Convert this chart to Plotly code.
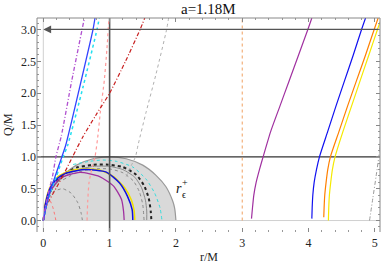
import plotly.graph_objects as go

# ---------------- data ----------------
title_text = "a=1.18M"
x_ticks = [0, 1, 2, 3, 4, 5]
y_ticks = [0.0, 0.5, 1.0, 1.5, 2.0, 2.5, 3.0]
y_tick_labels = ["0.0", "0.5", "1.0", "1.5", "2.0", "2.5", "3.0"]

# ergoregion half disk boundary r_eps^+
disk_r = [0, 0.02, 0.05, 0.15, 0.3, 0.5, 0.75, 1.0, 1.25, 1.5, 1.7, 1.85, 1.95, 1.98, 2.0]
disk_q = [0, 0.2, 0.31, 0.53, 0.71, 0.87, 0.97, 1.0, 0.97, 0.87, 0.71, 0.53, 0.31, 0.2, 0]

# arcs inside the disk
purple_arc_r = [0, 0.02, 0.04, 0.1, 0.25, 0.55, 0.85, 1.06, 1.18, 1.21, 1.22]
purple_arc_q = [0, 0.12, 0.22, 0.45, 0.66, 0.755, 0.69, 0.54, 0.33, 0.15, 0.0]
blue_arc_r = [0, 0.03, 0.1, 0.2, 0.34, 0.64, 0.95, 1.15, 1.27, 1.34, 1.35]
blue_arc_q = [0, 0.25, 0.5, 0.65, 0.745, 0.8, 0.76, 0.59, 0.38, 0.17, 0.0]
yellow_arc_r = [0, 0.03, 0.1, 0.22, 0.4, 0.62, 0.86, 1.06, 1.23, 1.33, 1.37, 1.38]
yellow_arc_q = [0, 0.27, 0.52, 0.69, 0.78, 0.81, 0.79, 0.69, 0.51, 0.32, 0.15, 0.0]
black_arc_r = [0, 0.05, 0.15, 0.3, 0.5, 0.75, 0.95, 1.2, 1.4, 1.52, 1.59, 1.62, 1.63]
black_arc_q = [0, 0.3, 0.55, 0.72, 0.83, 0.875, 0.88, 0.84, 0.72, 0.55, 0.35, 0.15, 0.0]
gray_arc_r = [0, 0.05, 0.15, 0.3, 0.5, 0.75, 1.0, 1.2, 1.38, 1.48, 1.54, 1.56, 1.56]
gray_arc_q = [0, 0.3, 0.52, 0.68, 0.79, 0.85, 0.85, 0.8, 0.68, 0.52, 0.32, 0.15, 0.0]
grayd_arc_r = [0.3, 0.5, 0.75, 1.0, 1.2, 1.36, 1.45, 1.5, 1.52]
grayd_arc_q = [0.64, 0.75, 0.81, 0.81, 0.75, 0.62, 0.45, 0.25, 0.0]
cyan_arc_r = [0.45, 0.7, 0.9, 1.1, 1.35, 1.55, 1.68, 1.76, 1.79]
cyan_arc_q = [0.88, 0.93, 0.95, 0.93, 0.84, 0.65, 0.43, 0.2, 0.0]
small_gray_r = [0, 0.05, 0.15, 0.29, 0.42, 0.52, 0.57, 0.59]
small_gray_q = [0, 0.3, 0.45, 0.5, 0.43, 0.28, 0.12, 0.0]
small_red_r = [0.0, 0.04, 0.09, 0.14, 0.17, 0.19]
small_red_q = [0.2, 0.3, 0.33, 0.22, 0.1, 0.0]

# rising curves on the left
purple_dd_r = [0, 0.03, 0.08, 0.14, 0.19, 0.27, 0.43, 0.585, 0.62]
purple_dd_q = [0, 0.2, 0.45, 0.7, 1.0, 1.32, 2.2, 3.0, 3.18]
blue_left_r = [0, 0.05, 0.1, 0.18, 0.28, 0.34, 0.55, 0.75, 0.78]
blue_left_q = [0, 0.25, 0.45, 0.7, 1.0, 1.19, 2.1, 3.0, 3.18]
cyan_left_r = [0, 0.05, 0.11, 0.2, 0.3, 0.37, 0.6, 0.81, 0.845]
cyan_left_q = [0, 0.25, 0.45, 0.7, 1.0, 1.19, 2.1, 3.0, 3.18]
lightred_r = [0.66, 0.67, 0.69, 0.74, 0.78, 0.82, 0.86, 0.92, 0.96, 0.99]
lightred_q = [0, 0.3, 0.6, 0.85, 1.0, 1.3, 1.7, 2.2, 2.7, 3.18]
red_dd_r = [0.02, 0.09, 0.2, 0.32, 0.45, 0.6, 0.79, 1.0, 1.24, 1.46, 1.53]
red_dd_q = [0.15, 0.32, 0.52, 0.75, 1.02, 1.32, 1.65, 2.0, 2.5, 3.0, 3.18]
gray_dot_r = [1.25, 1.32, 1.39, 1.43, 1.55, 1.7, 1.86, 1.89]
gray_dot_q = [0.69, 0.85, 1.0, 1.19, 1.7, 2.3, 3.0, 3.18]

# curves on the right
right_q = [0.03, 0.2, 0.4, 0.6, 0.8, 1.0, 1.4, 1.8, 2.2, 2.6, 3.0, 3.18]
purple_r = [3.14, 3.155, 3.175, 3.21, 3.26, 3.315, 3.43, 3.57, 3.71, 3.85, 3.99, 4.05]
blue_r = [4.05, 4.055, 4.065, 4.085, 4.12, 4.165, 4.29, 4.415, 4.545, 4.675, 4.80, 4.86]
orange_q = [0.05, 0.2, 0.4, 0.6, 0.8, 1.0, 1.4, 1.8, 2.2, 2.6, 3.0, 3.18]
orange_r = [4.23, 4.235, 4.245, 4.265, 4.29, 4.33, 4.46, 4.59, 4.725, 4.86, 4.99, 5.05]
yellow_q = [0.0, 0.2, 0.4, 0.6, 0.8, 1.0, 1.4, 1.8, 2.2, 2.6, 3.0, 3.12]
yellow_r = [4.30, 4.305, 4.315, 4.335, 4.36, 4.40, 4.52, 4.65, 4.78, 4.91, 5.04, 5.08]
graydd_r = [4.92, 4.97, 5.02, 5.06, 5.08]
graydd_q = [0.0, 0.35, 0.7, 1.0, 1.19]
orange_vline_r = [3.0, 3.0]
orange_vline_q = [0.0, 3.18]

x_range = [-0.095, 5.078]
y_range = [-0.18, 3.18]

# ---------------- figure ----------------
fig = go.Figure()

fig.add_trace(go.Scatter(x=disk_r, y=disk_q, mode="lines", fill="toself",
                         fillcolor="#d9d9d9", line=dict(color="#999999", width=1.2, shape="spline"),
                         hoverinfo="skip"))

DASHDOT = "4px,2px,1px,2px"

def add(xs, ys, color, dash="solid", width=1.2, shape="spline", smoothing=0.6):
    fig.add_trace(go.Scatter(x=xs, y=ys, mode="lines",
                             line=dict(color=color, dash=dash, width=width, shape=shape,
                                       smoothing=smoothing),
                             hoverinfo="skip"))

# inner arcs
add(small_gray_r, small_gray_q, "#8a8a8a", "dot", 1)
add(small_red_r, small_red_q, "#ff7070", "dot", 1)
add(cyan_arc_r, cyan_arc_q, "#33dddd", "dot", 1)
add(grayd_arc_r, grayd_arc_q, "#8a8a8a", "dot", 1)
add(gray_arc_r, gray_arc_q, "#8c8c8c", "solid", 1)
add(black_arc_r, black_arc_q, "#222222", "dot", 2)
add(yellow_arc_r, yellow_arc_q, "#f0e000", "solid", 1.5)
add(blue_arc_r, blue_arc_q, "#1010e0", "solid", 1.5)
add(purple_arc_r, purple_arc_q, "#a030a0", "solid", 1.3)

# reference lines
fig.add_trace(go.Scatter(x=[0, 0], y=[y_range[0], y_range[1]], mode="lines",
                         line=dict(color="#d0d0d0", width=1), hoverinfo="skip"))
fig.add_trace(go.Scatter(x=[0, x_range[1]], y=[0, 0], mode="lines",
                         line=dict(color="#d0d0d0", width=1), hoverinfo="skip"))
fig.add_trace(go.Scatter(x=[1, 1], y=[y_range[0], y_range[1]], mode="lines",
                         line=dict(color="#555555", width=1.6), hoverinfo="skip"))
fig.add_trace(go.Scatter(x=[x_range[0], x_range[1]], y=[1, 1], mode="lines",
                         line=dict(color="#333333", width=1.4), hoverinfo="skip"))
add(orange_vline_r, orange_vline_q, "#f0a060", "dot", 1, "linear")

# rising curves left
add(gray_dot_r, gray_dot_q, "#b0b0b0", "dot", 1)
add(lightred_r, lightred_q, "#ff9a9a", "dot", 1.2)
add(red_dd_r, red_dd_q, "#c82020", DASHDOT, 1.2)
add(cyan_left_r, cyan_left_q, "#22e0f0", "dot", 1.5)
add(blue_left_r, blue_left_q, "#3344ff", "solid", 1.3)
add(purple_dd_r, purple_dd_q, "#b050d0", DASHDOT, 1.3)

# right curves
add(purple_r, right_q, "#a030a0", "solid", 1.2)
add(blue_r, right_q, "#1010f0", "solid", 1.2)
add(orange_r, orange_q, "#ff8000", "solid", 1.2)
add(yellow_r, yellow_q, "#f5ea00", "solid", 1.2)
add(graydd_r, graydd_q, "#9a9a9a", DASHDOT, 1)

# horizontal line at Q=3 with arrow to the left
fig.add_annotation(x=0.0, y=3.0, ax=x_range[1], ay=3.0, xref="x", yref="y",
                   axref="x", ayref="y", showarrow=True, arrowhead=2, arrowsize=1.2,
                   arrowwidth=1.3, arrowcolor="#555555", text="")

serif = "Liberation Serif"
fig.add_annotation(x=2.04, y=0.5, xref="x", yref="y", text="<i>r</i>", showarrow=False,
                   font=dict(family=serif, size=14, color="#111"))
fig.add_annotation(x=2.13, y=0.59, xref="x", yref="y", text="+", showarrow=False,
                   font=dict(family=serif, size=10, color="#111"))
fig.add_annotation(x=2.12, y=0.41, xref="x", yref="y", text="ϵ", showarrow=False,
                   font=dict(family=serif, size=10, color="#111"))

fig.add_annotation(x=0.5, y=1.0, xref="paper", yref="paper", xanchor="center", yanchor="bottom",
                   yshift=-1, text=title_text, showarrow=False,
                   font=dict(family=serif, size=15, color="#111"))
fig.add_annotation(x=0.5, y=0, xref="paper", yref="paper", yshift=-25, yanchor="middle",
                   text="r/M", showarrow=False, font=dict(family=serif, size=12, color="#222"))
fig.add_annotation(x=0, y=0.5, xref="paper", yref="paper", xshift=-29, xanchor="center",
                   text="Q/M", textangle=-90, showarrow=False,
                   font=dict(family=serif, size=12, color="#222"))

# frame (left, top, right)
for (x0, y0, x1, y1) in [(0, 0, 0, 1), (0, 1, 1, 1), (1, 0, 1, 1)]:
    fig.add_shape(type="line", xref="paper", yref="paper", x0=x0, y0=y0, x1=x1, y1=y1,
                  line=dict(color="#888888", width=1))

fig.update_layout(
    width=382, height=268,
    margin=dict(l=37, r=2, t=18, b=36),
    paper_bgcolor="white", plot_bgcolor="white",
    showlegend=False,
    xaxis=dict(range=x_range, tickvals=x_ticks, ticktext=[str(v) for v in x_ticks],
               automargin=False,
               showgrid=False, zeroline=False, showline=False, mirror="ticks",
               ticks="inside", ticklen=4, tickcolor="#888", ticklabelstandoff=2,
               minor=dict(dtick=0.2, ticks="inside", ticklen=2, tickcolor="#999"),
               tickfont=dict(family=serif, size=12, color="#222")),
    yaxis=dict(range=y_range, tickvals=y_ticks, ticktext=y_tick_labels,
               automargin=False,
               showgrid=False, zeroline=False, showline=False, mirror="ticks",
               ticks="inside", ticklen=4, tickcolor="#888",
               minor=dict(dtick=0.1, ticks="inside", ticklen=2, tickcolor="#999"),
               tickfont=dict(family=serif, size=12, color="#222")),
)

fig.write_html("out.html", config={"displayModeBar": False},
               post_script="document.body.style.margin='0';document.body.style.padding='0';")
